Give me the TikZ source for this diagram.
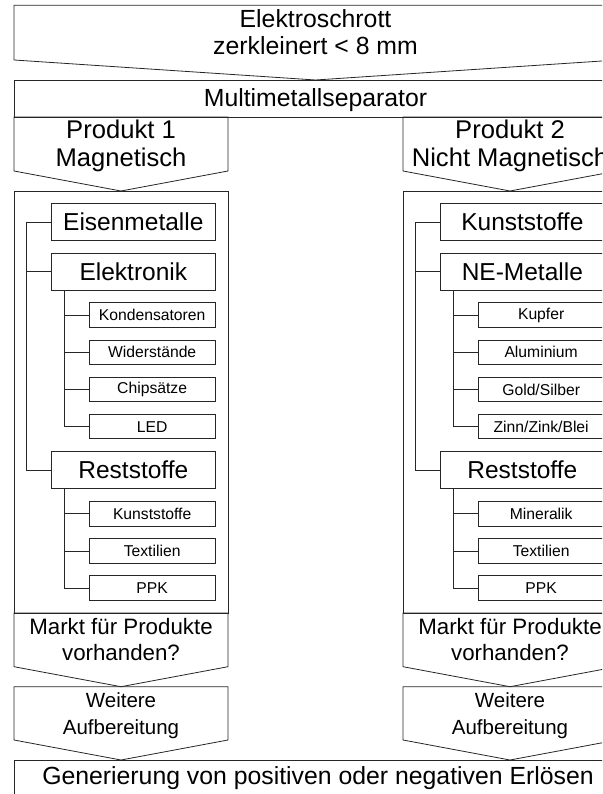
\documentclass[tikz,border=0pt]{standalone}
\usepackage{fontspec}
\setmainfont{Liberation Sans}
\usetikzlibrary{positioning}

\tikzset{
  line/.style={draw=black!85, line width=0.8pt},
  bigbox/.style={line, minimum width=163.3pt, minimum height=37pt, inner sep=0pt,
    font=\fontsize{24.5}{28}\selectfont},
  smallbox/.style={line, minimum width=125.7pt, minimum height=24.5pt, inner sep=0pt,
    font=\fontsize{15.7}{18}\selectfont},
  label/.style={align=center, inner sep=0pt, font=\fontsize{24.8}{27.5}\selectfont},
}
% chevron: x0, top, x1, bottom of the sides
\newcommand{\chev}[4]{\draw[line] (#1,#2) -- (#3,#2) -- (#3,#4)
  -- ({(#1+#3)/2},{#4+20}) -- (#1,#4) -- cycle;}

\begin{document}
\begin{tikzpicture}[x=1pt,y=-1pt]
\useasboundingbox (0,0) rectangle (602,794);
\clip (0,0) rectangle (602,794);

% feed and separator
\chev{14}{5.3}{617}{60}
\node[label] (feed) at (315.5,32) {Elektroschrott\\zerkleinert < 8 mm};
\draw[line] (14,80) rectangle (617,117);
\node[label] (sep) at (315.5,100) {Multimetallseparator};

% the two product streams
\foreach \dx in {0,389} {
  \chev{14+\dx}{117}{228+\dx}{171}
  \draw[line] (14+\dx,191) rectangle (228+\dx,613);
  \chev{14+\dx}{613}{228+\dx}{666.7}
  \chev{14+\dx}{686.7}{228+\dx}{740}
}
\node[label, font=\fontsize{25.6}{28}\selectfont] (prod1) at (121,146) {Produkt 1\\Magnetisch};
\node[label, font=\fontsize{25.6}{28}\selectfont] (prod2) at (510,146) {Produkt 2\\Nicht Magnetisch};
\foreach \x/\n in {121/1,510/2} {
  \node[label, font=\fontsize{22.3}{26}\selectfont] (markt\n) at (\x,640) {Markt für Produkte\\vorhanden?};
  \node[label, font=\fontsize{20.5}{27}\selectfont] (weiter\n) at (\x,716) {Weitere\\Aufbereitung};
}

% magnetic fraction
\node[bigbox] (eisen) at (133.35,222.2) {Eisenmetalle};
\node[bigbox] (elek) at (133.35,271.7) {Elektronik};
\foreach \t [count=\i] in {Kondensatoren,Widerstände,Chipsätze,LED}
  \node[smallbox] (elek\i) at (152.15,{315+(\i-1)*37.2}) {\t};
\node[bigbox] (restL) at (133.35,470) {Reststoffe};
\foreach \t [count=\i] in {Kunststoffe,Textilien,PPK}
  \node[smallbox] (restL\i) at (152.15,{513.7+(\i-1)*37.2}) {\t};

% non-magnetic fraction
\node[bigbox] (kunst) at (522.35,222.2) {Kunststoffe};
\node[bigbox] (ne) at (522.35,271.7) {NE-Metalle};
\foreach \t [count=\i] in {Kupfer,Aluminium,Gold/Silber,Zinn/Zink/Blei}
  \node[smallbox] (ne\i) at (541.15,{315+(\i-1)*37.2}) {\t};
\node[bigbox] (restR) at (522.35,470) {Reststoffe};
\foreach \t [count=\i] in {Mineralik,Textilien,PPK}
  \node[smallbox] (restR\i) at (541.15,{513.7+(\i-1)*37.2}) {\t};

% tree lines
\foreach \a/\b/\c in {eisen/elek/restL,kunst/ne/restR} {
  \draw[line] (\a.west) -- ++(-25pt,0) |- (\c.west);
  \draw[line] (\b.west) -- ++(-25pt,0);
}
\foreach \p/\n in {elek/4,restL/3,ne/4,restR/3} {
  \draw[line] (\p\n.west) -| ([xshift=-25pt]\p1.west |- \p.south);
  \foreach \i in {1,...,\n}
    \draw[line] (\p\i.west) -- ++(-25pt,0);
}

% result
\draw[line] (14,760) rectangle (617,800);
\node[label] (erloes) at (318,778) {Generierung von positiven oder negativen Erlösen};
\end{tikzpicture}
\end{document}
